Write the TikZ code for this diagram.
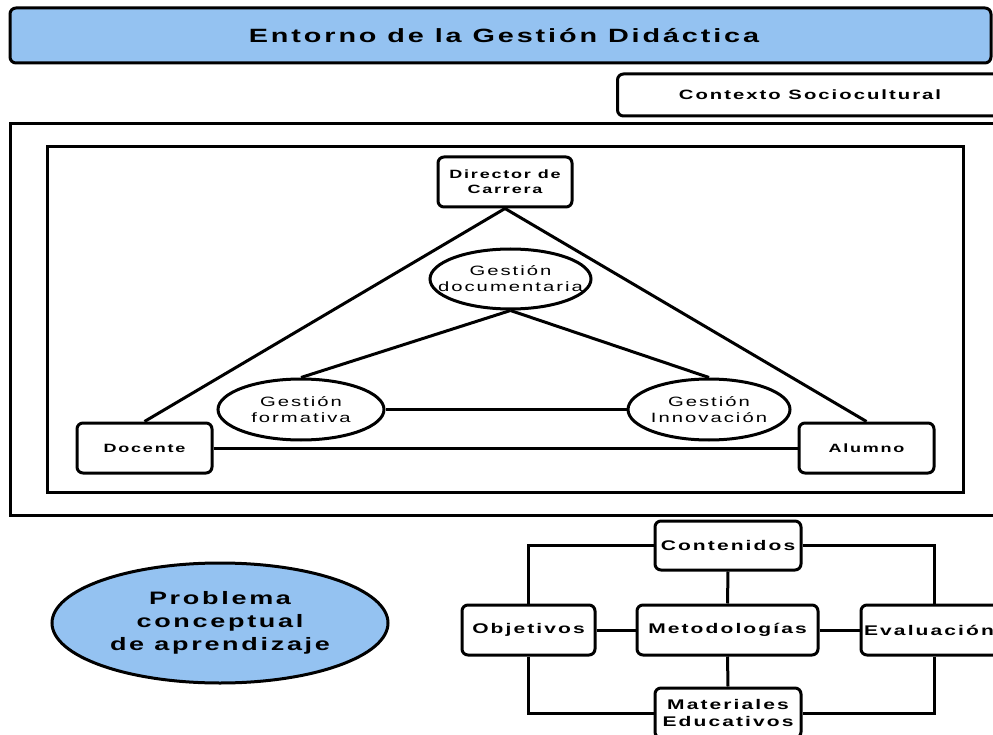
\documentclass[tikz,border=0pt]{standalone}
\usepackage{fontspec}
\setmainfont{Liberation Sans}[FakeStretch=1.5, LetterSpace=15]
\usetikzlibrary{shapes.geometric}
\definecolor{lblue}{RGB}{148,194,241}
\newcommand{\zb}[1]{\makebox[0pt]{#1}}
\begin{document}
\begin{tikzpicture}[x=1pt,y=-1pt,
  box/.style={draw, line width=3pt, rounded corners=6pt, inner sep=0pt, align=center, fill=white},
  ell/.style={draw, ellipse, line width=3pt, inner sep=0pt, align=center, fill=white},
  frame/.style={draw, line width=3pt},
  ln/.style={line width=3pt},
  sb/.style={font={\fontsize{12}{15}\selectfont\bfseries}},
  mb/.style={font={\fontsize{14}{17}\selectfont\bfseries}},
  gt/.style={font={\fontsize{13.5}{16}\selectfont}},
]
\useasboundingbox (0,0) rectangle (993,735);
\clip (0,0) rectangle (993,735);

% title and context
\node[box, fill=lblue, minimum width=981, minimum height=55,
      font={\fontsize{19.2}{22}\selectfont\bfseries}] (title) at (500.5,35.5) {\hspace*{7pt}Entorno de la Gestión Didáctica};
\node[box, minimum width=385, minimum height=42,
      font={\fontsize{13.5}{17}\selectfont\bfseries}] (ctx) at (810,95) {Contexto Sociocultural};

% frames
\draw[frame] (10,124) rectangle (1010,515);
\draw[frame] (47,147) rectangle (963,492);

% triangle nodes
\node[box, sb, minimum width=134, minimum height=50] (dir) at (505,182) {Director de\\Carrera};
\node[box, sb, minimum width=135, minimum height=50] (doc) at (144.5,448) {Docente};
\node[box, sb, minimum width=135, minimum height=50] (alu) at (866.5,448) {Alumno};
\node[ell, gt, minimum width=161, minimum height=60] (gdoc) at (510.5,279) {\zb{Gestión}\\\zb{documentaria}};
\node[ell, gt, minimum width=166, minimum height=61] (gfor) at (301,409.5) {\zb{Gestión}\\\zb{formativa}};
\node[ell, gt, minimum width=162, minimum height=61] (ginn) at (709,409.5) {\zb{Gestión}\\\zb{Innovación}};

\draw[ln] (dir.south) -- (doc.north);
\draw[ln] (dir.south) -- (alu.north);
\draw[ln] (doc.east) -- (alu.west);
\draw[ln] (gdoc.south) -- (gfor.north);
\draw[ln] (gdoc.south) -- (ginn.north);
\draw[ln] (gfor.east) -- (ginn.west);

% problem
\node[ell, fill=lblue, minimum width=336, minimum height=120,
      font={\fontsize{18}{23}\selectfont\bfseries}] (prob) at (220,623) {\zb{Problema}\\\zb{conceptual}\\\zb{de aprendizaje}};

% bottom network
\node[box, mb, minimum width=146, minimum height=49] (cont) at (728,545.5) {Contenidos};
\node[box, mb, minimum width=133, minimum height=50] (obj) at (528.5,630) {Objetivos};
\node[box, mb, minimum width=181, minimum height=50] (met) at (727.5,630) {Metodologías};
\node[box, mb, minimum width=146, minimum height=50] (eva) at (934,630) {\hspace*{-10pt}Evaluación};
\node[box, mb, minimum width=146, minimum height=50] (mat) at (728,713) {Materiales\\Educativos};

\draw[ln] (cont.west) -| (obj.north);
\draw[ln] (cont.east) -| (eva.north);
\draw[ln] (obj.south) |- (mat.west);
\draw[ln] (eva.south) |- (mat.east);
\draw[ln] (cont.south) -- (met.north);
\draw[ln] (met.south) -- (mat.north);
\draw[ln] (obj.east) -- (met.west);
\draw[ln] (met.east) -- (eva.west);
\end{tikzpicture}
\end{document}
